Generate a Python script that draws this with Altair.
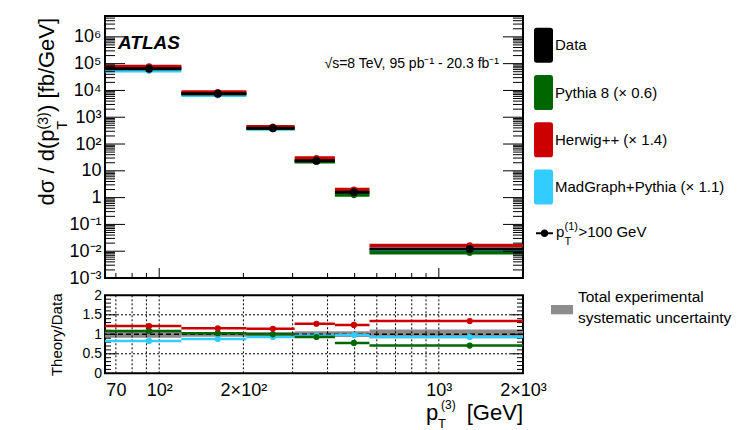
import json
import altair as alt
import pandas as pd

FONT = "Liberation Sans"

# ---------------- data ----------------
bin_lo = [64, 120, 205, 305, 425, 565]
bin_hi = [120, 205, 305, 425, 565, 2000]
bin_ctr = [92, 162, 255, 365, 497, 1290]

data_xs = [6.5e4, 7.5e3, 390, 23.7, 1.6, 0.0122]
pythia_xs = [7.05e4, 7.7e3, 390, 22.0, 1.25, 0.0087]
herwig_xs = [7.9e4, 8.7e3, 445, 30.0, 2.0, 0.0164]
madgraph_xs = [5.4e4, 6.6e3, 363, 22.9, 1.57, 0.0113]

pythia_ratio = [1.085, 1.03, 1.00, 0.93, 0.78, 0.71]
herwig_ratio = [1.21, 1.155, 1.14, 1.27, 1.24, 1.34]
madgraph_ratio = [0.83, 0.88, 0.93, 0.965, 0.98, 0.93]

syst_lo = [0.91, 0.94, 0.94, 0.93, 0.93, 0.90]
syst_hi = [1.09, 1.06, 1.06, 1.08, 1.08, 1.12]

series_names = ["Data", "Pythia 8 (× 0.6)", "Herwig++ (× 1.4)", "MadGraph+Pythia (× 1.1)"]
series_colors = ["#000000", "#006600", "#cc0000", "#33ccff"]

y_major = [1e-3, 1e-2, 1e-1, 1, 10, 1e2, 1e3, 1e4, 1e5, 1e6]
y_labels = ["10⁻³", "10⁻²", "10⁻¹", "1", "10", "10²", "10³", "10⁴", "10⁵", "10⁶"]
x_label_values = [70, 100, 200, 1000, 2000]
x_label_texts = ["70", "10²", "2×10²", "10³", "2×10³"]
x_grid = [70, 80, 90, 100, 200, 300, 400, 500, 600, 700, 800, 900, 1000]
x_major_ticks = [100, 1000]
x_minor_ticks = [70, 80, 90, 200, 300, 400, 500, 600, 700, 800, 900]
ratio_major_ticks = [0.5, 1.0, 1.5]
ratio_minor_ticks = [0.1, 0.2, 0.3, 0.4, 0.6, 0.7, 0.8, 0.9, 1.1, 1.2, 1.3, 1.4, 1.6, 1.7, 1.8, 1.9]
ratio_grid = [0.5, 1.5]
ratio_labels = [0, 0.5, 1, 1.5, 2]

W, H_TOP, H_RAT = 418, 262, 78

# ---------------- tables ----------------
xs_arrays = [data_xs, pythia_xs, herwig_xs, madgraph_xs]
ratio_arrays = [None, pythia_ratio, herwig_ratio, madgraph_ratio]
draw_order = [3, 1, 2, 0]
rows = []
for k in draw_order:
    for i in range(len(bin_lo)):
        rows.append(dict(series=series_names[k], lo=bin_lo[i], hi=bin_hi[i],
                         ctr=bin_ctr[i], xs=xs_arrays[k][i],
                         ratio=(ratio_arrays[k][i] if ratio_arrays[k] else 1.0)))
df = pd.DataFrame(rows)
model_df = df[df.series != "Data"]
data_df = df[df.series == "Data"].assign(sel="sel")
band_df = pd.DataFrame(dict(lo=bin_lo, hi=bin_hi, slo=syst_lo, shi=syst_hi, unc="unc"))
one = pd.DataFrame({"a": [0]})

minor_log = [m * 10.0 ** e for e in range(-3, 7) for m in range(2, 10) if m * 10.0 ** e < 6e6]

xs_top = alt.Scale(type="log", domain=[64, 2000], nice=False)
ys_top = alt.Scale(type="log", domain=[1e-3, 6e6], nice=False)
xs_rat = alt.Scale(type="log", domain=[64, 2000], nice=False)
ys_rat = alt.Scale(domain=[0, 2], nice=False, zero=False)
color_scale = alt.Scale(domain=series_names, range=series_colors)

BOX = "M-1,-1.54Q-1,-1.84,-0.7,-1.84L0.7,-1.84Q1,-1.84,1,-1.54L1,1.54Q1,1.84,0.7,1.84L-0.7,1.84Q-1,1.84,-1,1.54Z"
# filled line segments left/right of a filled dot
LINE_DOT = ("M-1,-0.12L-0.4,-0.12L-0.4,0.12L-1,0.12Z"
            "M0.4,-0.12L1,-0.12L1,0.12L0.4,0.12Z"
            "M-0.44,0A0.44,0.44,0,1,1,0.44,0A0.44,0.44,0,1,1,-0.44,0Z")
GREYBOX = "M-1,-0.423L1,-0.423L1,0.423L-1,0.423Z"


def text(t, x, y, size, align="left", angle=0, style="normal", weight="normal", baseline="alphabetic"):
    return alt.Chart(one).mark_text(
        font=FONT, fontSize=size, align=align, angle=angle, fontStyle=style,
        fontWeight=weight, baseline=baseline, color="black"
    ).encode(x=alt.value(x), y=alt.value(y), text=alt.value(t))


def hticks(values, scale, x0, x1):
    return alt.Chart(pd.DataFrame({"v": values})).mark_rule(color="black", strokeWidth=1).encode(
        x=alt.value(x0), x2=alt.value(x1), y=alt.Y("v:Q", scale=scale, axis=None))


def vticks(values, scale, y0, y1):
    return alt.Chart(pd.DataFrame({"v": values})).mark_rule(color="black", strokeWidth=1).encode(
        y=alt.value(y0), y2=alt.value(y1), x=alt.X("v:Q", scale=scale, axis=None))


# ---------------- top panel ----------------
y_expr = json.dumps(y_labels, ensure_ascii=False) + "[round(log(datum.value)/LN10)+3]"
y_axis_top = alt.Axis(orient="left", values=y_major, labelExpr=y_expr, ticks=False, tickSize=0,
                      domain=False, grid=False, labelPadding=4, labelFontSize=18, labelFont=FONT,
                      labelColor="black", labelOverlap=False, labelBaseline="middle", title=None)

spacer = alt.Chart(one).mark_rect(opacity=0).encode(
    x=alt.value(-96), x2=alt.value(612), y=alt.value(-7), y2=alt.value(0))

# one rule layer per model, in drawing order MadGraph, Pythia, Herwig
model_rule_layers = []
first = True
for k in [3, 1, 2]:
    sub = model_df[model_df.series == series_names[k]]
    model_rule_layers.append(
        alt.Chart(sub).mark_rule(strokeWidth=3.5, color=series_colors[k]).encode(
            x=alt.X("lo:Q", scale=xs_top, axis=None), x2="hi:Q",
            y=alt.Y("xs:Q", scale=ys_top, axis=(y_axis_top if first else None))))
    first = False

data_rules = alt.Chart(data_df).mark_rule(strokeWidth=3, color="black").encode(
    x=alt.X("lo:Q", scale=xs_top, axis=None), x2="hi:Q",
    y=alt.Y("xs:Q", scale=ys_top, axis=None))

model_pts = alt.Chart(model_df).mark_circle(size=40, opacity=1).encode(
    x=alt.X("ctr:Q", scale=xs_top, axis=None),
    y=alt.Y("xs:Q", scale=ys_top, axis=None),
    color=alt.Color("series:N", scale=color_scale, legend=alt.Legend(
        orient="none", legendX=429, legendY=19.7, title=None, padding=0,
        symbolType=BOX, symbolSize=361, symbolStrokeWidth=0, symbolOpacity=1,
        rowPadding=12.3, labelFont=FONT, labelFontSize=15, labelColor="black",
        labelOffset=2, labelLimit=300)))

data_pts = alt.Chart(data_df).mark_circle(size=36, color="black", stroke="black",
                                          strokeWidth=2, opacity=1).encode(
    x=alt.X("ctr:Q", scale=xs_top, axis=None),
    y=alt.Y("xs:Q", scale=ys_top, axis=None),
    opacity=alt.Opacity("sel:N", scale=alt.Scale(domain=["sel"], range=[1]), legend=alt.Legend(
        orient="none", legendX=431, legendY=208.8, title=None, padding=0,
        symbolType=LINE_DOT, symbolSize=289, symbolStrokeWidth=0,
        symbolFillColor="black", symbolStrokeColor="black", symbolOpacity=1,
        labelExpr="''")))

top = alt.layer(
    spacer,
    *model_rule_layers,
    hticks(y_major, ys_top, 0, 20), hticks(minor_log, ys_top, 0, 10),
    hticks(y_major, ys_top, W, W - 20), hticks(minor_log, ys_top, W, W - 10),
    vticks(x_major_ticks, xs_top, H_TOP, H_TOP - 10), vticks(x_minor_ticks, xs_top, H_TOP, H_TOP - 5),
    data_rules, model_pts, data_pts,
    text("ATLAS", 13, 33.3, 19, style="italic", weight="bold"),
    text("√s=8 TeV, 95 pb⁻¹ - 20.3 fb⁻¹", 394, 51.7, 14, align="right"),
    # y title with sub/superscripts
    text("dσ / d(p", -51, 113.5, 22, align="right", angle=270),
    text("T", -38, 113.5, 14, align="left", angle=270),
    text("(3)", -57, 113.5, 14, align="left", angle=270),
    text(") [fb/GeV]", -51, 96, 22, align="left", angle=270),
    # legend entry label p_T^(1) > 100 GeV
    text("p", 451, 221, 15),
    text("(1)", 459.5, 213.5, 11),
    text("T", 459.5, 228.5, 11),
    text(">100 GeV", 473.5, 221, 15),
).resolve_axis(x="independent", y="independent").properties(width=W, height=H_TOP)

# ---------------- ratio panel ----------------
x_expr = (json.dumps(x_label_texts, ensure_ascii=False)
          + "[indexof(" + json.dumps(x_label_values) + ", datum.value)]")
x_axis_rat = alt.Axis(orient="bottom", values=x_label_values, labelExpr=x_expr, ticks=False,
                      tickSize=0, domain=False, grid=False, labelPadding=8, labelFontSize=18,
                      labelFont=FONT, labelColor="black", labelOverlap=False, labelFlush=False,
                      labelBound=False, title=None)
y_axis_rat = alt.Axis(orient="left", values=ratio_labels, format="~g", ticks=False, tickSize=0,
                      domain=False, grid=False, labelPadding=3.5, labelFontSize=14, labelFont=FONT,
                      labelColor="black", labelOverlap=False, labelBaseline="middle",
                      title="Theory/Data", titleAngle=270, titleX=-44, titleY=39,
                      titleAlign="center", titleBaseline="alphabetic", titleFont=FONT,
                      titleFontSize=15, titleFontWeight="normal", titleColor="black")

band = alt.Chart(band_df).mark_rect(opacity=1).encode(
    x=alt.X("lo:Q", scale=xs_rat, axis=x_axis_rat), x2="hi:Q",
    y=alt.Y("slo:Q", scale=ys_rat, axis=y_axis_rat), y2="shi:Q",
    fill=alt.Fill("unc:N", scale=alt.Scale(domain=["unc"], range=["#8c8c8c"]), legend=alt.Legend(
        orient="none", legendX=446, legendY=3.35, title=None, padding=0,
        symbolType=GREYBOX, symbolSize=484, symbolStrokeWidth=0, symbolOpacity=1,
        labelExpr="''")))

vgrid = alt.Chart(pd.DataFrame({"v": x_grid})).mark_rule(
    color="black", strokeWidth=1, strokeDash=[2, 2]).encode(x=alt.X("v:Q", scale=xs_rat, axis=None))
hgrid = alt.Chart(pd.DataFrame({"v": ratio_grid})).mark_rule(
    color="black", strokeWidth=1, strokeDash=[2, 2]).encode(y=alt.Y("v:Q", scale=ys_rat, axis=None))
unity = alt.Chart(pd.DataFrame({"v": [1.0]})).mark_rule(
    color="black", strokeWidth=1.5, strokeDash=[5, 3]).encode(y=alt.Y("v:Q", scale=ys_rat, axis=None))

rat_rules = alt.Chart(model_df).mark_rule(strokeWidth=2.5).encode(
    x=alt.X("lo:Q", scale=xs_rat, axis=None), x2="hi:Q",
    y=alt.Y("ratio:Q", scale=ys_rat, axis=None),
    stroke=alt.Stroke("series:N", scale=color_scale, legend=None))
rat_pts = alt.Chart(model_df).mark_circle(size=38, opacity=1).encode(
    x=alt.X("ctr:Q", scale=xs_rat, axis=None),
    y=alt.Y("ratio:Q", scale=ys_rat, axis=None),
    color=alt.Color("series:N", scale=color_scale, legend=None))

bottom = alt.layer(
    band, vgrid, hgrid, unity,
    hticks(ratio_major_ticks, ys_rat, 0, 12), hticks(ratio_minor_ticks, ys_rat, 0, 6),
    hticks(ratio_major_ticks, ys_rat, W, W - 12), hticks(ratio_minor_ticks, ys_rat, W, W - 6),
    rat_rules, rat_pts,
    text("Total experimental", 473, 1.5, 15.5, baseline="middle"),
    text("systematic uncertainty", 473, 22.5, 15.5, baseline="middle"),
    # x title p_T^(3) [GeV]
    text("p", 321, 124.5, 22),
    text("T", 333, 132.5, 13),
    text("(3)", 336, 113.5, 12),
    text("[GeV]", W, 124.5, 22, align="right"),
).resolve_axis(x="independent", y="independent").properties(width=W, height=H_RAT)

chart = alt.vconcat(top, bottom, spacing=17.3, bounds="flush").resolve_scale(
    color="independent", stroke="independent", fill="independent", opacity="independent"
).properties(padding=0).configure(font=FONT).configure_view(stroke="black", strokeWidth=2)

chart.save("out.html", embed_options={"renderer": "svg", "actions": False})
